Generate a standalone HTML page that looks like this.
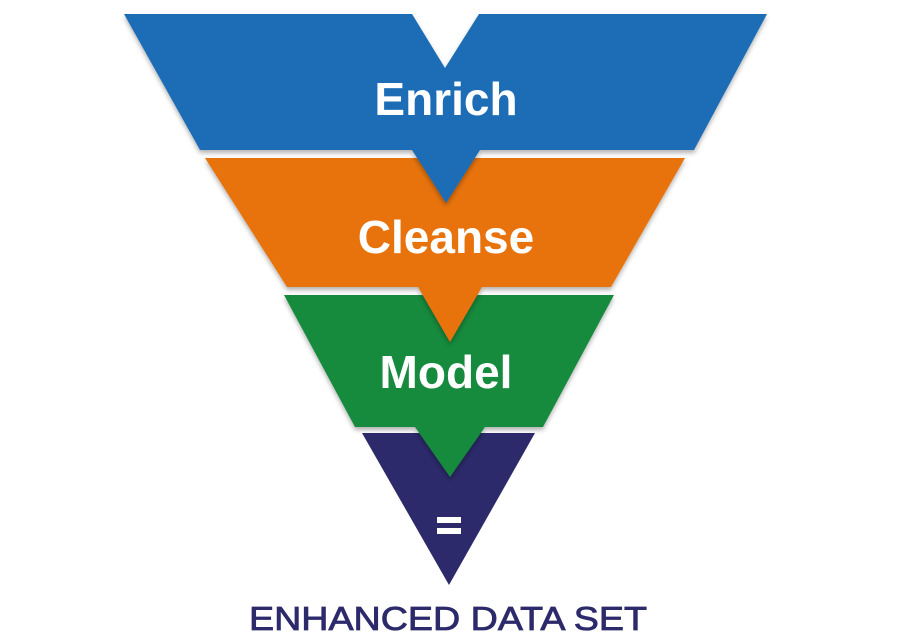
<!DOCTYPE html>
<html><head><meta charset="utf-8"><style>
html,body{margin:0;padding:0;background:#fff;}
svg{display:block}
</style></head><body>
<svg width="912" height="639" viewBox="0 0 912 639" xmlns="http://www.w3.org/2000/svg">
<defs><filter id="s" x="-10%" y="-10%" width="120%" height="130%"><feDropShadow dx="0" dy="3" stdDeviation="2.5" flood-color="#000" flood-opacity="0.3"/></filter></defs>
<polygon points="362,433 535,433 449,585" fill="#2c2a6a"/>
<polygon points="284,295 614,295 543,427 485,427 450,477 415,427 355,427" fill="#168a3c" filter="url(#s)"/>
<polygon points="205,158 685,158 611,287 482,287 450,342 418,287 287,287" fill="#e8730f" filter="url(#s)"/>
<polygon points="124,14 412,14 445,68 479,14 767,14 694,150 480,150 446,203 412,150 200,150" fill="#1b6db5" filter="url(#s)"/>
<g font-family="Liberation Sans, sans-serif" font-weight="bold" fill="#fff" text-anchor="middle">
<text x="446" y="115" font-size="46">Enrich</text>
<text x="446" y="253" font-size="46">Cleanse</text>
<text x="446" y="388" font-size="46">Model</text>
</g>
<rect x="437" y="517" width="24" height="6" fill="#fff"/>
<rect x="437" y="528" width="24" height="6" fill="#fff"/>
<text x="448" y="630" font-family="Liberation Sans, sans-serif" font-size="33" fill="#2c2a6a" stroke="#2c2a6a" stroke-width="0.8" text-anchor="middle" textLength="398" lengthAdjust="spacingAndGlyphs">ENHANCED DATA SET</text>
</svg>
</body></html>
